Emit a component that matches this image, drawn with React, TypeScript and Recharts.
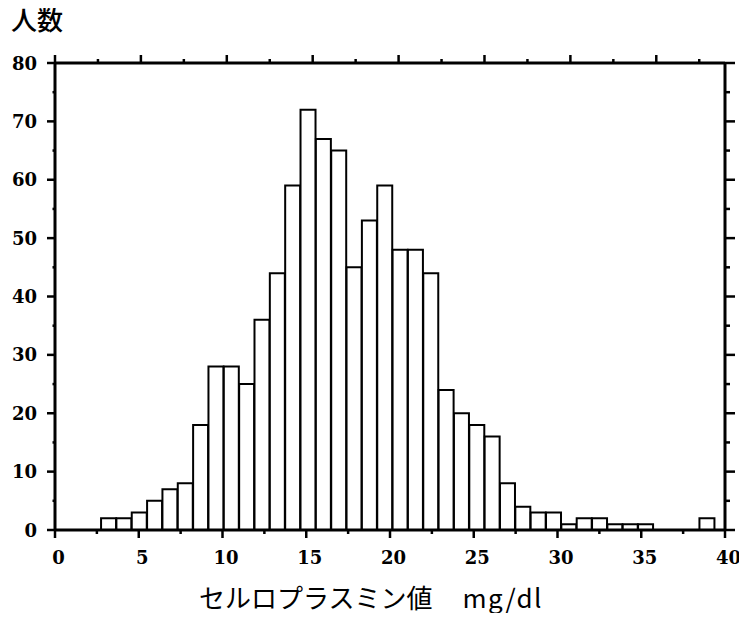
import React from 'react';
import { BarChart, Bar, XAxis, YAxis } from 'recharts';

// histogram bins (centre of each bin, mg/dl) and number of people in each
const binCenters = [
  3.208, 4.124, 5.04, 5.956, 6.872, 7.788, 8.704, 9.62, 10.536, 11.452,
  12.368, 13.284, 14.2, 15.116, 16.032, 16.948, 17.864, 18.78, 19.696, 20.612,
  21.528, 22.444, 23.36, 24.276, 25.192, 26.108, 27.024, 27.94, 28.856, 29.772,
  30.688, 31.604, 32.52, 33.436, 34.352, 35.268, 36.184, 37.1, 38.016, 38.932,
];
const counts = [
  2, 2, 3, 5, 7, 8, 18, 28, 28, 25,
  36, 44, 59, 72, 67, 65, 45, 53, 59, 48,
  48, 44, 24, 20, 18, 16, 8, 4, 3, 3,
  1, 2, 2, 1, 1, 1, 0, 0, 0, 2,
];

const xTicks = [0, 2.5, 5, 7.5, 10, 12.5, 15, 17.5, 20, 22.5, 25, 27.5, 30, 32.5, 35, 37.5, 40];
const yTicks = [0, 5, 10, 15, 20, 25, 30, 35, 40, 45, 50, 55, 60, 65, 70, 75, 80];

const yTitle = '人数';
const xTitle = 'セルロプラスミン値';
const xUnit = 'mg/dl';

const data = binCenters.map((x, i) => ({ x, count: counts[i] }));

const numFont: React.CSSProperties = {
  fontFamily: '"DejaVu Serif", serif',
  fontWeight: 'bold',
  fontSize: 18,
};
const jpFont = '"Noto Sans CJK JP", "Noto Sans", sans-serif';

const TICK_W = 2.5;

const BottomTick = (props: any) => {
  const { x, y, payload } = props;
  const major = payload.value % 5 === 0;
  return (
    <g>
      <line x1={x} y1={y} x2={x} y2={y + (major ? 8 : 4)} stroke="#000" strokeWidth={TICK_W} />
      {major && (
        <text x={x + 3.5} y={y + 34} textAnchor="middle" fill="#000" style={numFont}>
          {payload.value}
        </text>
      )}
    </g>
  );
};

const TopTick = (props: any) => {
  const { x, y, payload } = props;
  const major = payload.value % 5 === 0;
  return <line x1={x} y1={y} x2={x} y2={y - (major ? 8 : 4)} stroke="#000" strokeWidth={TICK_W} />;
};

const LeftTick = (props: any) => {
  const { x, y, payload } = props;
  const major = payload.value % 10 === 0;
  return (
    <g>
      <line x1={x} y1={y} x2={x - (major ? 8 : 2.5)} y2={y} stroke="#000" strokeWidth={TICK_W} />
      {major && (
        <text x={x - 18} y={y + 6.5} textAnchor="end" fill="#000" style={numFont}>
          {payload.value}
        </text>
      )}
    </g>
  );
};

const RightTick = (props: any) => {
  const { x, y, payload } = props;
  const major = payload.value % 10 === 0;
  return <line x1={x} y1={y} x2={x + (major ? 10 : 5)} y2={y} stroke="#000" strokeWidth={TICK_W} />;
};

const axisLine = { stroke: '#000', strokeWidth: 3 };

export default function App() {
  return (
    <div style={{ position: 'relative', width: 747, height: 613, margin: '-8px -8px 0 -8px', background: '#fff' }}>
      <div
        style={{
          position: 'absolute',
          left: 11,
          top: 6,
          fontFamily: jpFont,
          fontSize: 26,
          fontWeight: 500,
          lineHeight: '26px',
          color: '#000',
        }}
      >
        {yTitle}
      </div>
      <BarChart
        width={747}
        height={600}
        data={data}
        margin={{ top: 53, right: 0, bottom: 0, left: 0 }}
        barCategoryGap={0}
        barGap={0}
      >
        <XAxis
          xAxisId="main"
          dataKey="x"
          type="number"
          domain={[0, 40]}
          allowDataOverflow
          ticks={xTicks}
          interval={0}
          height={70}
          axisLine={axisLine}
          tickLine={false}
          tickSize={0}
          tickMargin={0}
          tick={BottomTick}
        />
        <XAxis
          xAxisId="top"
          orientation="top"
          type="number"
          domain={[0, 40]}
          allowDataOverflow
          ticks={xTicks}
          interval={0}
          height={10}
          axisLine={axisLine}
          tickLine={false}
          tickSize={0}
          tickMargin={0}
          tick={TopTick}
        />
        <YAxis
          yAxisId="main"
          type="number"
          domain={[0, 80]}
          allowDataOverflow
          ticks={yTicks}
          interval={0}
          width={55}
          axisLine={axisLine}
          tickLine={false}
          tickSize={0}
          tickMargin={0}
          tick={LeftTick}
        />
        <YAxis
          yAxisId="right"
          orientation="right"
          type="number"
          domain={[0, 80]}
          allowDataOverflow
          ticks={yTicks}
          interval={0}
          width={22}
          axisLine={axisLine}
          tickLine={false}
          tickSize={0}
          tickMargin={0}
          tick={RightTick}
        />
        <Bar
          xAxisId="main"
          yAxisId="main"
          dataKey="count"
          fill="#fff"
          stroke="#000"
          strokeWidth={2}
          isAnimationActive={false}
        />
      </BarChart>
      <div
        style={{
          position: 'absolute',
          left: 199,
          top: 584,
          fontFamily: jpFont,
          fontSize: 26,
          lineHeight: '26px',
          whiteSpace: 'pre',
          color: '#000',
        }}
      >
        {xTitle}
        <span style={{ marginLeft: 30, letterSpacing: 1.5 }}>{xUnit}</span>
      </div>
    </div>
  );
}
